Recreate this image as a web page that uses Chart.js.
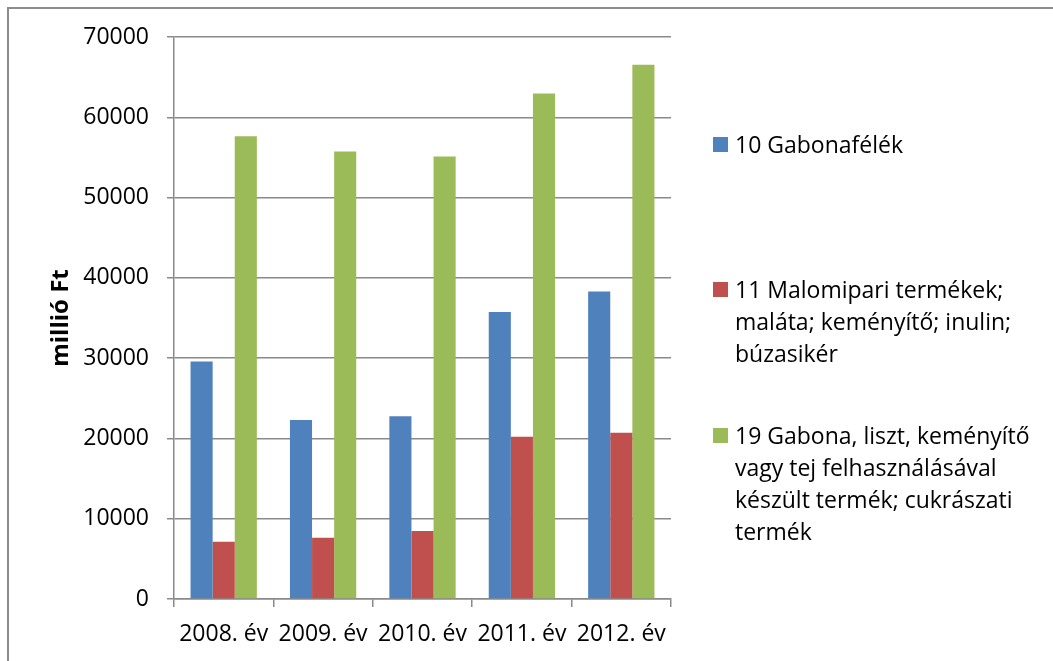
<!DOCTYPE html>
<html>
<head>
<meta charset="utf-8">
<script src="https://cdn.jsdelivr.net/npm/chart.js@4.4.1/dist/chart.umd.min.js"></script>
<style>
  html, body { margin: 0; padding: 0; background: #fff; }
  #wrap { position: relative; width: 1053px; height: 661px; overflow: hidden; font-family: "Open Sans", sans-serif; }
  #frame { position: absolute; left: 7px; top: 7px; width: 1100px; height: 700px; border-left: 2px solid #8c8c8c; border-top: 2px solid #8c8c8c; }
  #chartBox { position: absolute; left: 0; top: 0; width: 1053px; height: 661px; }
  #legend { position: absolute; left: 713px; top: 0; }
  .leg-item { position: absolute; left: 0; white-space: nowrap; }
  .leg-box { position: absolute; left: 0; top: 9px; width: 15px; height: 15px; }
  .leg-text { position: absolute; left: 22px; top: 0; font-size: 23px; line-height: 32px; color: #000; }
</style>
</head>
<body>
<div id="wrap">
  <div id="frame"></div>
  <div id="chartBox"><canvas id="bars"></canvas></div>
  <div id="legend"></div>
</div>
<script>
//DATA
const years = ['2008. év', '2009. év', '2010. év', '2011. év', '2012. év'];

const gabonafelek   = [29570, 22300, 22750, 35760, 38300];
const malomipari    = [7140, 7640, 8470, 20220, 20720];
const gabonaLiszt   = [57640, 55730, 55110, 62960, 66530];

const label_10 = ['10 Gabonafélék'];
const label_11 = ['11 Malomipari termékek;', 'maláta; keményítő; inulin;', 'búzasikér'];
const label_19 = ['19 Gabona, liszt, keményítő', 'vagy tej felhasználásával', 'készült termék; cukrászati', 'termék'];

const yTitle = 'millió Ft';

//STYLE
const font_main = '"Open Sans", sans-serif';
const color_grid = '#8a8a8a';
const legendTops = [128, 273, 419];

const html__legend = document.querySelector('#legend');

const chart_data = {
    labels: years,
    datasets: [
        { label: label_10.join(' '), lines: label_10, data: gabonafelek, backgroundColor: '#4F81BD' },
        { label: label_11.join(' '), lines: label_11, data: malomipari,  backgroundColor: '#C0504D' },
        { label: label_19.join(' '), lines: label_19, data: gabonaLiszt, backgroundColor: '#9BBB59' }
    ]
};

const config = {
    type: 'bar',
    data: chart_data,
    options: {
        responsive: true,
        maintainAspectRatio: false,
        animation: false,
        layout: { padding: { left: 0, top: 37, right: 382, bottom: 0 } },
        datasets: { bar: { categoryPercentage: 0.667, barPercentage: 1.0 } },
        plugins: {
            legend: { display: false },
            tooltip: { enabled: false }
        },
        scales: {
            x: {
                offset: true,
                grid: { offset: true, drawOnChartArea: false, drawTicks: true, tickLength: 8, color: color_grid, lineWidth: 1.5 },
                border: { color: color_grid, width: 1.5 },
                ticks: { color: '#000', padding: 14, maxRotation: 0, autoSkip: false, font: { family: font_main, size: 23 } },
                afterFit: (scale) => { scale.height = 62; }
            },
            y: {
                min: 0,
                max: 70000,
                ticks: {
                    stepSize: 10000, color: '#000', padding: 18,
                    font: { family: font_main, size: 23 },
                    callback: (value) => String(value)
                },
                grid: { color: color_grid, lineWidth: 1.5, tickLength: 7 },
                border: { color: color_grid, width: 1.5 },
                title: {
                    display: true,
                    text: yTitle,
                    color: '#000',
                    padding: { top: 47, bottom: 0 },
                    font: { family: font_main, size: 24, weight: 'bold' }
                },
                afterFit: (scale) => { scale.width = 174; }
            }
        }
    }
};

const barChart = new Chart(document.querySelector('#bars'), config);

//LEGEND
function BuildLegend(_datasets){
    _datasets.forEach(function (ds, i) {
        let item = document.createElement('div');
        item.className = 'leg-item';
        item.style.top = legendTops[i] + 'px';
        let box = document.createElement('div');
        box.className = 'leg-box';
        box.style.background = ds.backgroundColor;
        let text = document.createElement('div');
        text.className = 'leg-text';
        text.innerHTML = ds.lines.join('<br>');
        item.appendChild(box);
        item.appendChild(text);
        html__legend.appendChild(item);
    });
}
BuildLegend(chart_data.datasets);
</script>
</body>
</html>
